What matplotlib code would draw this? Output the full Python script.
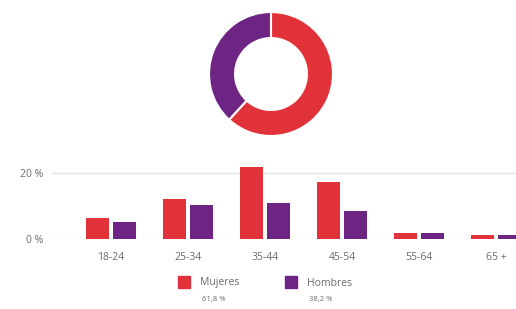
import matplotlib
matplotlib.use("Agg")
import matplotlib.pyplot as plt
import numpy as np
from matplotlib.patches import Rectangle

plt.rcParams['font.family'] = ['Open Sans', 'DejaVu Sans']

# data
sexos = ["Mujeres", "Hombres"]
sexo_pct = [61.8, 38.2]
sexo_lbl = ["61,8 %", "38,2 %"]
edades = ["18-24", "25-34", "35-44", "45-54", "55-64", "65 +"]
mujeres = [6.3, 12.1, 21.8, 17.3, 2.0, 1.2]
hombres = [5.3, 10.2, 11.0, 8.5, 2.0, 1.2]

rojo = "#e1323a"
morado = "#6d2482"
gris = "#6b6b6b"
W, H = 516, 309

fig = plt.figure(figsize=(W / 100, H / 100), dpi=100)

# donut
axd = fig.add_axes([209 / W, 1 - 136 / H, 124 / W, 124 / H])
axd.pie(sexo_pct, colors=[rojo, morado], startangle=90, counterclock=False,
        radius=1, wedgeprops=dict(width=0.42, edgecolor="white", linewidth=1.5))
axd.set_xlim(-1, 1)
axd.set_ylim(-1, 1)
axd.set_aspect("equal")
axd.axis("off")

# bars
ax = fig.add_axes([52 / W, 1 - 239.3 / H, 464 / W, 80 / H])
x = np.arange(len(edades))
ax.bar(x - 0.175, mujeres, width=0.31, color=rojo, zorder=3)
ax.bar(x + 0.175, hombres, width=0.31, color=morado, zorder=3)
ax.set_xlim(-0.766, 5.26)
ax.set_ylim(0, 24)
ax.set_yticks([0, 20])
ax.set_yticklabels(["0 %", "20 %"])
ax.set_xticks(x)
ax.set_xticklabels(edades)
ax.tick_params(axis="both", length=0, labelsize=7.5, labelcolor=gris)
ax.tick_params(axis="y", pad=6)
ax.tick_params(axis="x", pad=9)
ax.grid(axis="y", color="#e4e4e4", linewidth=1, zorder=0)
ax.set_axisbelow(True)
for s in ax.spines.values():
    s.set_visible(False)
ax.patch.set_visible(False)

# legend
leg_x = [178, 285]
for i in range(2):
    col = [rojo, morado][i]
    fig.patches.append(Rectangle((leg_x[i] / W, 1 - 288 / H), 12 / W, 12 / H,
                                 transform=fig.transFigure, color=col))
    fig.text((leg_x[i] + 22) / W, 1 - 283 / H, sexos[i], fontsize=7.5,
             color=gris, va="center", ha="left")
    fig.text((leg_x[i] + 24) / W, 1 - 300 / H, sexo_lbl[i], fontsize=5.5,
             color=gris, va="center", ha="left")

fig.savefig("out.png", dpi=100)
